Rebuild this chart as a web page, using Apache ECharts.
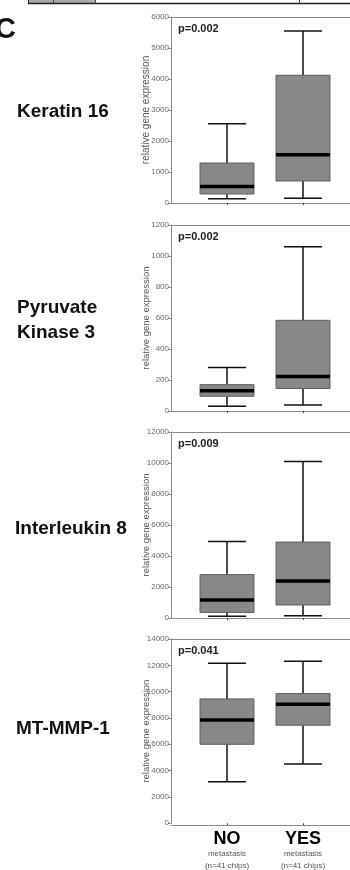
<!DOCTYPE html>
<html>
<head>
<meta charset="utf-8">
<script src="https://cdn.jsdelivr.net/npm/echarts@6/dist/echarts.min.js"></script>
<style>
  html, body { margin: 0; padding: 0; background: #fff; }
  #chart { width: 350px; height: 870px; }
</style>
</head>
<body>
<div id="chart"></div>
<script>
// ---- data ----
const categories = ['NO', 'YES'];
const genes = ['Keratin 16', 'Pyruvate\nKinase 3', 'Interleukin 8', 'MT-MMP-1'];
const pValues = ['p=0.002', 'p=0.002', 'p=0.009', 'p=0.041'];
// [min, Q1, median, Q3, max] for NO and YES
const keratin16 = [[140, 290, 530, 1290, 2560], [150, 710, 1560, 4120, 5550]];
const pyruvateKinase3 = [[30, 95, 130, 170, 280], [38, 145, 222, 585, 1060]];
const interleukin8 = [[110, 360, 1160, 2800, 4940], [150, 840, 2380, 4900, 10100]];
const mtMmp1 = [[3150, 6000, 7850, 9450, 12150], [4500, 7450, 9050, 9850, 12300]];
const yMax = [6000, 1200, 12000, 14000];
const yInterval = [1000, 200, 2000, 2000];
const yAxisTitle = 'relative gene expression';
const groupSub = ['metastasis', '(n=41 chips)'];

const panels = [keratin16, pyruvateKinase3, interleukin8, mtMmp1];

// ---- layout ----
const FONT = '"Liberation Sans", Arial, Helvetica, sans-serif';
const panelTop = [17, 225, 432, 639];
const panelH = 186;
const geneTop = [100, 295, 517, 716.5];
const geneLeft = [17, 17, 15, 16];
const nameSize = [10, 9.5, 9.5, 9.5];

const grids = [], xAxes = [], yAxes = [], series = [], titles = [];

panels.forEach((vals, i) => {
  // frame grid (axis lines spanning to right edge)
  grids.push({ left: 171, right: 0, top: panelTop[i], height: panelH });
  const fg = grids.length - 1;
  // plot grid
  grids.push({ left: 189, right: 9, top: panelTop[i], height: panelH });
  const pg = grids.length - 1;

  const frameAxisCommon = {
    type: 'value', min: 0, max: 1, gridIndex: fg,
    axisLine: { show: true, lineStyle: { color: '#8a8a8a', width: 1 } },
    axisTick: { show: false }, axisLabel: { show: false }, splitLine: { show: false }
  };
  xAxes.push(Object.assign({}, frameAxisCommon, { position: 'bottom' }));
  xAxes.push(Object.assign({}, frameAxisCommon, { position: 'top' }));
  yAxes.push({ type: 'value', min: 0, max: 1, gridIndex: fg, show: false });

  const isLast = i === panels.length - 1;
  xAxes.push({
    type: 'category', data: categories, gridIndex: pg,
    axisLine: { show: false },
    axisTick: { show: true, alignWithLabel: true, length: 2, lineStyle: { color: '#444', width: 1 } },
    axisLabel: {
      show: isLast, margin: 7, interval: 0,
      formatter: (v) => '{a|' + v + '}\n{b|' + groupSub[0] + '}\n{b|' + groupSub[1] + '}',
      rich: {
        a: { fontFamily: FONT, fontSize: 18, fontWeight: 'bold', color: '#000', lineHeight: 17 },
        b: { fontFamily: FONT, fontSize: 8, color: '#555', lineHeight: 12.5 }
      }
    },
    splitLine: { show: false }
  });
  const px = xAxes.length - 1;

  yAxes.push({
    type: 'value', min: 0, max: yMax[i], interval: yInterval[i], gridIndex: pg,
    offset: 18,
    name: yAxisTitle, nameLocation: 'middle', nameGap: 20, nameMoveOverlap: false,
    nameTextStyle: { fontFamily: FONT, fontSize: nameSize[i], color: '#555' },
    axisLine: { show: true, lineStyle: { color: '#8a8a8a', width: 1 } },
    axisTick: { show: true, inside: false, length: 3, lineStyle: { color: '#8a8a8a' } },
    axisLabel: { fontFamily: FONT, fontSize: 8, color: '#6a6a6a', margin: 2, formatter: (v) => String(v) },
    splitLine: { show: false }
  });
  const py = yAxes.length - 1;

  series.push({
    type: 'custom',
    xAxisIndex: px, yAxisIndex: py,
    data: vals.map((v, k) => [k].concat(v)),
    encode: { x: 0, y: [1, 2, 3, 4, 5] },
    renderItem: function (params, api) {
      const x = api.value(0);
      const ys = [1, 2, 3, 4, 5].map(d => api.coord([x, api.value(d)])[1]);
      const cx = api.coord([x, 0])[0];
      const band = api.size([1, 0])[0];
      const bw = band * 0.71, cw = band * 0.5;
      const [yMin, yQ1, yMed, yQ3, yMx] = ys;
      const ws = { stroke: '#111', lineWidth: 1.5 };
      return {
        type: 'group',
        children: [
          { type: 'line', shape: { x1: cx, y1: yMx, x2: cx, y2: yQ3 }, style: ws },
          { type: 'line', shape: { x1: cx, y1: yQ1, x2: cx, y2: yMin }, style: ws },
          { type: 'line', shape: { x1: cx - cw / 2, y1: yMx, x2: cx + cw / 2, y2: yMx }, style: ws },
          { type: 'line', shape: { x1: cx - cw / 2, y1: yMin, x2: cx + cw / 2, y2: yMin }, style: ws },
          { type: 'rect', shape: { x: cx - bw / 2, y: yQ3, width: bw, height: yQ1 - yQ3 },
            style: { fill: '#888888', stroke: '#5e5e5e', lineWidth: 1 } },
          { type: 'line', shape: { x1: cx - bw / 2, y1: yMed, x2: cx + bw / 2, y2: yMed },
            style: { stroke: '#000', lineWidth: 3.5 } }
        ]
      };
    }
  });

  titles.push({
    text: genes[i], left: geneLeft[i], top: geneTop[i], padding: 0,
    textStyle: { fontFamily: FONT, fontSize: 19, fontWeight: 'bold', color: '#111', lineHeight: i === 1 ? 25 : 24 }
  });
  titles.push({
    text: pValues[i], left: 178, top: panelTop[i] + 5.5, padding: 0,
    textStyle: { fontFamily: FONT, fontSize: 11, fontWeight: 'bold', color: '#222', lineHeight: 12 }
  });
});

titles.push({
  text: 'C', left: -5, top: 15, padding: 0,
  textStyle: { fontFamily: FONT, fontSize: 29, fontWeight: 'bold', color: '#111', lineHeight: 30 }
});

const chart = echarts.init(document.getElementById('chart'), null, { renderer: 'canvas' });
chart.setOption({
  animation: false,
  backgroundColor: '#fff',
  title: titles,
  grid: grids,
  xAxis: xAxes,
  yAxis: yAxes,
  series: series,
  graphic: [
    { type: 'rect', shape: { x: 28, y: 0, width: 67, height: 3 }, style: { fill: '#a8a8a8' } },
    { type: 'line', shape: { x1: 28, y1: 3.5, x2: 350, y2: 3.5 }, style: { stroke: '#222', lineWidth: 1.5 } },
    { type: 'line', shape: { x1: 28.5, y1: 0, x2: 28.5, y2: 3.5 }, style: { stroke: '#222', lineWidth: 1 } },
    { type: 'line', shape: { x1: 53.5, y1: 0, x2: 53.5, y2: 3.5 }, style: { stroke: '#444', lineWidth: 1 } },
    { type: 'line', shape: { x1: 95.5, y1: 0, x2: 95.5, y2: 3.5 }, style: { stroke: '#444', lineWidth: 1 } },
    { type: 'line', shape: { x1: 299.5, y1: 0, x2: 299.5, y2: 3.5 }, style: { stroke: '#444', lineWidth: 1 } }
  ]
});
</script>
</body>
</html>
